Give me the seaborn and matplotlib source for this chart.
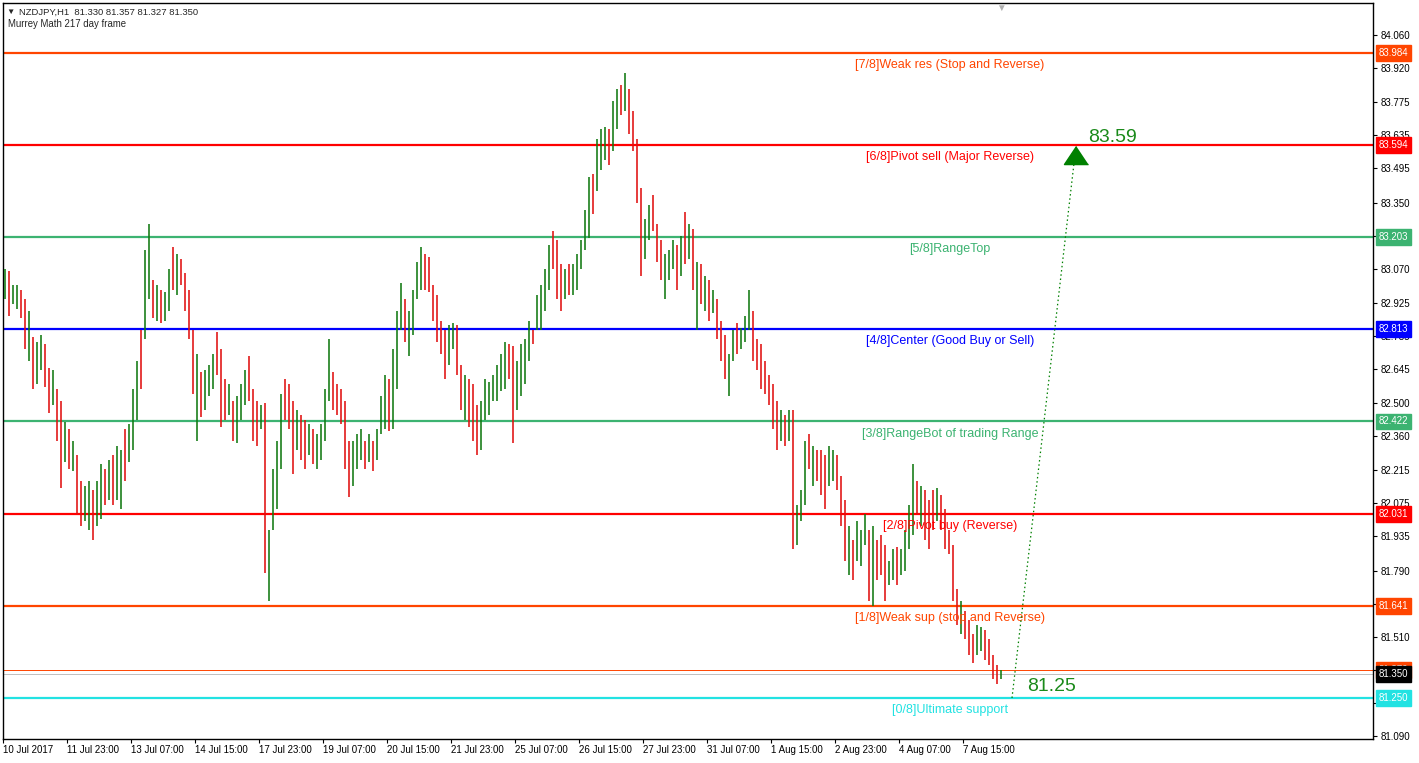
import numpy as np
import pandas as pd
import seaborn as sns
import matplotlib.pyplot as plt
from matplotlib.transforms import blended_transform_factory

# NZDJPY H1 (each entry ~2 hourly bars)
highs = [
    83.07, 83.06, 83.00, 83.00, 82.98, 82.94, 82.89, 82.78, 82.76, 82.79,
    82.75, 82.65, 82.64, 82.56, 82.51, 82.42, 82.39, 82.34, 82.28, 82.17,
    82.15, 82.17, 82.13, 82.17, 82.24, 82.22, 82.26, 82.28, 82.32, 82.30,
    82.39, 82.41, 82.56, 82.68, 82.81, 83.15, 83.26, 83.02, 83.00, 82.98,
    82.97, 83.07, 83.16, 83.13, 83.11, 83.05, 82.98, 82.81, 82.71, 82.63,
    82.64, 82.66, 82.71, 82.80, 82.73, 82.60, 82.58, 82.51, 82.53, 82.58,
    82.64, 82.70, 82.56, 82.51, 82.49, 82.50, 81.96, 82.22, 82.34, 82.54,
    82.60, 82.58, 82.51, 82.47, 82.45, 82.43, 82.41, 82.39, 82.37, 82.41,
    82.56, 82.77, 82.63, 82.58, 82.56, 82.51, 82.34, 82.34, 82.37, 82.39,
    82.34, 82.37, 82.34, 82.39, 82.53, 82.62, 82.60, 82.73, 82.89, 83.01,
    82.94, 82.89, 82.98, 83.10, 83.16, 83.13, 83.12, 83.00, 82.96, 82.85,
    82.81, 82.83, 82.84, 82.83, 82.66, 82.62, 82.60, 82.58, 82.49, 82.51,
    82.60, 82.59, 82.62, 82.66, 82.71, 82.76, 82.75, 82.74, 82.68, 82.75,
    82.77, 82.85, 82.81, 82.96, 83.00, 83.07, 83.17, 83.23, 83.19, 83.09,
    83.07, 83.09, 83.09, 83.13, 83.19, 83.32, 83.46, 83.47, 83.62, 83.66,
    83.67, 83.66, 83.78, 83.83, 83.85, 83.90, 83.83, 83.74, 83.62, 83.41,
    83.28, 83.34, 83.38, 83.26, 83.19, 83.13, 83.15, 83.19, 83.17, 83.21,
    83.31, 83.26, 83.24, 83.10, 83.09, 83.04, 83.02, 82.98, 82.94, 82.85,
    82.79, 82.71, 82.81, 82.84, 82.82, 82.87, 82.98, 82.89, 82.77, 82.75,
    82.68, 82.62, 82.58, 82.51, 82.47, 82.45, 82.47, 82.47, 82.07, 82.13,
    82.34, 82.37, 82.32, 82.30, 82.30, 82.28, 82.32, 82.30, 82.28, 82.19,
    82.09, 81.98, 81.92, 82.00, 81.96, 82.03, 81.96, 81.98, 81.92, 81.94,
    81.90, 81.83, 81.88, 81.89, 81.88, 81.96, 82.07, 82.24, 82.17, 82.15,
    82.13, 82.09, 82.13, 82.14, 82.11, 82.05, 81.96, 81.90, 81.71, 81.66,
    81.62, 81.58, 81.52, 81.56, 81.55, 81.54, 81.50, 81.43, 81.39, 81.37,
]
lows = [
    82.94, 82.87, 82.92, 82.90, 82.86, 82.73, 82.68, 82.56, 82.58, 82.64,
    82.57, 82.46, 82.49, 82.34, 82.14, 82.25, 82.22, 82.21, 82.03, 81.98,
    82.00, 81.96, 81.92, 81.98, 82.01, 82.07, 82.09, 82.07, 82.09, 82.05,
    82.17, 82.25, 82.30, 82.43, 82.56, 82.77, 82.94, 82.86, 82.85, 82.84,
    82.85, 82.89, 82.98, 82.96, 83.00, 82.89, 82.77, 82.54, 82.34, 82.44,
    82.47, 82.53, 82.56, 82.62, 82.40, 82.43, 82.45, 82.34, 82.33, 82.43,
    82.49, 82.51, 82.34, 82.32, 82.39, 81.78, 81.66, 81.96, 82.05, 82.22,
    82.43, 82.39, 82.20, 82.30, 82.26, 82.22, 82.28, 82.24, 82.22, 82.26,
    82.34, 82.51, 82.47, 82.45, 82.41, 82.22, 82.10, 82.15, 82.22, 82.26,
    82.22, 82.25, 82.21, 82.26, 82.37, 82.39, 82.38, 82.39, 82.56, 82.81,
    82.76, 82.70, 82.79, 82.94, 82.98, 82.98, 82.97, 82.85, 82.76, 82.71,
    82.60, 82.66, 82.73, 82.62, 82.47, 82.43, 82.40, 82.34, 82.28, 82.30,
    82.43, 82.45, 82.51, 82.51, 82.55, 82.56, 82.60, 82.33, 82.47, 82.53,
    82.58, 82.68, 82.75, 82.81, 82.81, 82.89, 82.98, 83.07, 82.94, 82.89,
    82.94, 82.96, 82.96, 82.98, 83.07, 83.15, 83.20, 83.30, 83.40, 83.49,
    83.53, 83.51, 83.57, 83.66, 83.72, 83.74, 83.64, 83.57, 83.35, 83.04,
    83.11, 83.19, 83.23, 83.10, 83.02, 82.94, 83.02, 83.07, 82.98, 83.04,
    83.09, 83.11, 82.98, 82.81, 82.92, 82.89, 82.85, 82.88, 82.77, 82.68,
    82.60, 82.53, 82.68, 82.71, 82.73, 82.76, 82.81, 82.68, 82.64, 82.56,
    82.54, 82.49, 82.39, 82.30, 82.34, 82.32, 82.34, 81.88, 81.90, 82.00,
    82.07, 82.22, 82.15, 82.17, 82.11, 82.05, 82.15, 82.17, 82.13, 81.98,
    81.83, 81.77, 81.75, 81.83, 81.81, 81.90, 81.66, 81.64, 81.75, 81.77,
    81.66, 81.73, 81.75, 81.73, 81.77, 81.79, 81.88, 81.94, 82.03, 81.98,
    81.92, 81.88, 81.96, 82.00, 81.96, 81.88, 81.86, 81.66, 81.56, 81.52,
    81.50, 81.43, 81.40, 81.43, 81.45, 81.41, 81.39, 81.33, 81.31, 81.33,
]
# G = bull bar, R = bear bar
direction = ("GRGGRRGRGG" "RRGRRGRGRR" "GGRGGRGRGG" "RGGGRGGRGR" "GGRGRRRRGR"
             "GGGRRRGRGG" "GRRRGRGGGG" "RRRGRRGRGG" "GGRRRRRGGG" "RGRGGGRGGG"
             "RGGGGRRRRR" "RGGRRGRRRG" "GGGGGGRRGG" "GGRGGGGRRR" "GRGGGGGRGG"
             "GRGGRGRRRR" "GGRRRGGGRG" "RGRGRGRGRR" "RGGRGGGRRR" "RRRRGRGRGG"
             "GRGRRRGGRR" "RGRGGGRGRR" "RGGRGGGGRG" "RRRGRRRRRG" "RRRGGRRRRG")

murrey_levels = [83.984, 83.594, 83.203, 82.813, 82.422, 82.031, 81.641, 81.250]
murrey_names = ["[7/8]Weak res (Stop and Reverse)", "[6/8]Pivot sell (Major Reverse)",
                "[5/8]RangeTop", "[4/8]Center (Good Buy or Sell)",
                "[3/8]RangeBot of trading Range", "[2/8]Pivot buy (Reverse)",
                "[1/8]Weak sup (stop and Reverse)", "[0/8]Ultimate support"]
murrey_colors = ["#FF4500", "#FF0000", "#3CB371", "#0000FF",
                 "#3CB371", "#FF0000", "#FF4500", "#22E2E2"]

tick_prices = [84.060, 83.920, 83.775, 83.635, 83.495, 83.350, 83.210, 83.070,
               82.925, 82.785, 82.645, 82.500, 82.360, 82.215, 82.075, 81.935,
               81.790, 81.650, 81.510, 81.370, 81.230, 81.090]
hidden_ticks = [83.210, 81.650, 81.370]  # sit fully under the level boxes
time_labels = ["10 Jul 2017", "11 Jul 23:00", "13 Jul 07:00", "14 Jul 15:00",
               "17 Jul 23:00", "19 Jul 07:00", "20 Jul 15:00", "21 Jul 23:00",
               "25 Jul 07:00", "26 Jul 15:00", "27 Jul 23:00", "31 Jul 07:00",
               "1 Aug 15:00", "2 Aug 23:00", "4 Aug 07:00", "7 Aug 15:00"]

last_ohlc = [81.330, 81.357, 81.327, 81.350]
ask_price = 81.370
target_low, target_high = 81.25, 83.59
arrow_bars = [251.75, 267.75]

sns.set_style("white")
plt.rcParams['font.family'] = ['Liberation Sans', 'DejaVu Sans']

W, H = 1419, 763
fig = plt.figure(figsize=(W / 100, H / 100), dpi=100)
ax = fig.add_axes([3 / W, 24 / H, 1370 / W, 736 / H])

df = pd.DataFrame({"bar": np.arange(len(highs)), "high": highs, "low": lows,
                   "dir": list(direction)})
bar_colors = df["dir"].map({"G": "#117A11", "R": "#E01010"})
ax.vlines(df["bar"], df["low"], df["high"], colors=bar_colors, lw=1.15, zorder=3)

# murrey math lines
for lvl, name, c in zip(murrey_levels, murrey_names, murrey_colors):
    ax.axhline(lvl, color=c, lw=1.6, zorder=2)
    ax.annotate(name, (236.25, lvl), xytext=(0, -4.5), textcoords="offset points",
                ha="center", va="top", color=c, fontsize=9, zorder=4)

ax.axhline(ask_price, color="#FF4500", lw=0.7, zorder=2)
ax.axhline(last_ohlc[3], color="#C0C0C0", lw=0.7, zorder=2)

# projection arrow
sns.lineplot(x=arrow_bars, y=[target_low, target_high], ax=ax, color="#008000",
             lw=0.9, linestyle=(0, (1.2, 2.2)), zorder=5)
ax.plot(arrow_bars[1], target_high, marker=[(0, 0), (-0.6, -0.9), (0.6, -0.9)],
        markersize=26, color="#008000", zorder=6)
ax.annotate(f"{target_high:.2f}", (arrow_bars[1], target_high), xytext=(9, 0),
            textcoords="offset points", color="#1A8A1A", fontsize=14, va="bottom")
ax.annotate(f"{target_low:.2f}", (arrow_bars[0], target_low), xytext=(11, 2),
            textcoords="offset points", color="#1A8A1A", fontsize=14, va="bottom")

ax.set_xlim(-0.5, 342)
ax.set_ylim(81.076, 84.196)

ax.yaxis.tick_right()
ax.set_yticks(tick_prices)
ax.set_yticklabels(["" if p in hidden_ticks else f"{p:.3f}" for p in tick_prices])
ax.tick_params(axis="y", direction="out", length=3, width=0.8, pad=2.5,
               labelsize=7, colors="black", right=True, left=False)
ax.set_xticks([-0.5] + [15.5 + 16 * k for k in range(len(time_labels) - 1)])
ax.set_xticklabels(time_labels)
ax.tick_params(axis="x", direction="out", length=3, width=0.8, pad=1.5,
               labelsize=7, colors="black", bottom=True)
for lab in ax.get_xticklabels():
    lab.set_ha("left")
ax.grid(False)
for s in ax.spines.values():
    s.set_color("black")
    s.set_linewidth(1.0)

# price boxes on the right scale
ytr = blended_transform_factory(ax.transAxes, ax.transData)
box_items = list(zip(murrey_levels, murrey_colors)) + [(ask_price, "#FF4500"), (last_ohlc[3], "black")]
for lvl, c in box_items:
    ax.text(1.0042, lvl, f"{lvl:.3f}", transform=ytr, ha="left", va="center",
            fontsize=7, color="white", clip_on=False, zorder=10,
            bbox=dict(boxstyle="square,pad=0.3", fc=c, ec=c))

ax.text(len(highs) - 1, 1.0, "\u25BC", transform=blended_transform_factory(ax.transData, ax.transAxes),
        ha="center", va="top", fontsize=7, color="#B0B0B0")

fig.text(6 / W, 1 - 12 / H, "\u25BC", fontsize=6, va="center", ha="left")
fig.text(19 / W, 1 - 12 / H, "NZDJPY,H1  " + " ".join(f"{v:.3f}" for v in last_ohlc),
         fontsize=6.8, va="center", ha="left")
fig.text(8 / W, 1 - 24 / H, "Murrey Math 217 day frame", fontsize=6.9, va="center", ha="left")

fig.savefig("out.png", dpi=100)
